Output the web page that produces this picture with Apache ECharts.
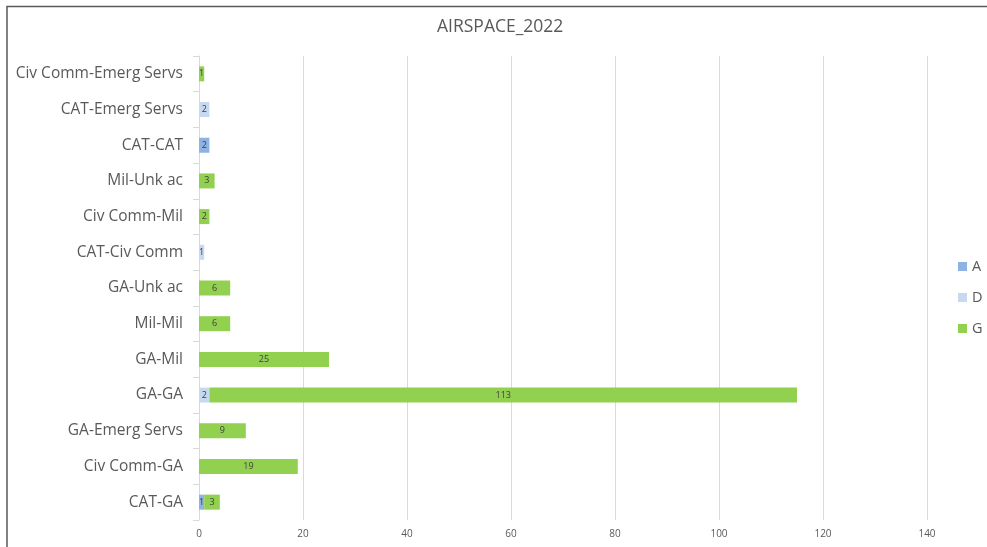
<!DOCTYPE html>
<html>
<head>
<meta charset="utf-8">
<title>AIRSPACE_2022</title>
<script src="https://cdn.jsdelivr.net/npm/echarts@6/dist/echarts.min.js"></script>
<style>
  html, body { margin: 0; padding: 0; background: #fff; }
  #chart { width: 987px; height: 547px; }
</style>
</head>
<body>
<div id="chart"></div>
<script>
// Encounter pairings, listed bottom to top on the category axis
const categories = [
  'CAT-GA', 'Civ Comm-GA', 'GA-Emerg Servs', 'GA-GA', 'GA-Mil', 'Mil-Mil',
  'GA-Unk ac', 'CAT-Civ Comm', 'Civ Comm-Mil', 'Mil-Unk ac', 'CAT-CAT',
  'CAT-Emerg Servs', 'Civ Comm-Emerg Servs'
];
// Counts per airspace class (null = no occurrences)
const seriesA = [1, null, null, null, null, null, null, null, null, null, 2, null, null];
const seriesD = [null, null, null, 2, null, null, null, 1, null, null, null, 2, null];
const seriesG = [3, 19, 9, 113, 25, 6, 6, null, 2, 3, null, null, 1];

const valueTicks = [0, 20, 40, 60, 80, 100, 120, 140];

const colors = { A: '#8db3e2', D: '#c6d9f1', G: '#92d050' };

const labelStyle = {
  show: true,
  position: 'inside',
  color: '#404040',
  fontSize: 9,
  fontFamily: 'Open Sans, Calibri, sans-serif'
};

function makeSeries(name, data) {
  return {
    name: name,
    type: 'bar',
    stack: 'total',
    data: data,
    barWidth: 15,
    itemStyle: { color: colors[name] },
    label: labelStyle,
    emphasis: { disabled: true }
  };
}

const chart = echarts.init(document.getElementById('chart'), null, { renderer: 'canvas' });

chart.setOption({
  animation: false,
  backgroundColor: '#fff',
  title: {
    text: 'AIRSPACE_2022',
    left: 437,
    top: 18,
    padding: 0,
    textStyle: {
      color: '#595959',
      fontSize: 17.5,
      fontWeight: 'normal',
      fontFamily: 'Open Sans, Calibri, sans-serif'
    }
  },
  legend: {
    orient: 'vertical',
    left: 953,
    top: 254,
    itemGap: 16,
    itemWidth: 9,
    itemHeight: 9,
    icon: 'rect',
    textStyle: {
      color: '#595959',
      fontSize: 14.5,
      fontFamily: 'Open Sans, Calibri, sans-serif',
      padding: [0, 0, 0, 0]
    },
    data: ['A', 'D', 'G']
  },
  grid: {
    left: 199,
    right: 60,
    top: 56,
    bottom: 27,
    containLabel: false
  },
  xAxis: {
    type: 'value',
    min: 0,
    max: 140,
    interval: 20,
    axisLine: { show: false },
    axisTick: { show: false },
    splitLine: { lineStyle: { color: '#d9d9d9', width: 1 } },
    axisLabel: {
      color: '#595959',
      fontSize: 10,
      margin: 9,
      fontFamily: 'Open Sans, Calibri, sans-serif',
      formatter: function (v) { return valueTicks.indexOf(v) >= 0 ? String(v) : ''; }
    }
  },
  yAxis: {
    type: 'category',
    data: categories,
    axisLine: { show: true, lineStyle: { color: '#d9d9d9', width: 1 } },
    axisTick: { show: true, length: 6, lineStyle: { color: '#d9d9d9' } },
    axisLabel: {
      color: '#595959',
      fontSize: 15.5,
      margin: 16,
      fontFamily: 'Open Sans, Calibri, sans-serif'
    },
    splitLine: { show: false }
  },
  series: [
    makeSeries('A', seriesA),
    makeSeries('D', seriesD),
    makeSeries('G', seriesG)
  ],
  graphic: [
    {
      type: 'polyline',
      shape: { points: [[7, 547], [7, 6.5], [987, 6.5]] },
      style: { stroke: '#595959', lineWidth: 1.5, fill: null },
      silent: true
    }
  ]
});
</script>
</body>
</html>
